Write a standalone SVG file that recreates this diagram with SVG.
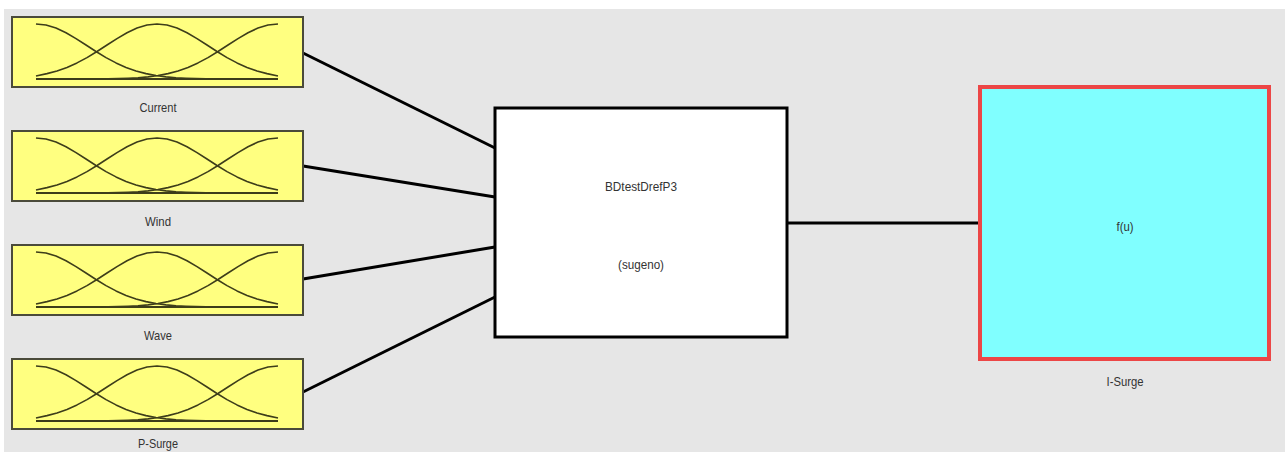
<svg xmlns="http://www.w3.org/2000/svg" width="1285" height="452" viewBox="0 0 1285 452">
<style>
.bg{fill:#e6e6e6}
.inbox{fill:#ffff80;stroke:#4a4a3a;stroke-width:2}
.mf{fill:none;stroke:#3d3d1a;stroke-width:1.6;stroke-linejoin:round}
.base{stroke:#3d3d1a;stroke-width:2}
.lbl{font-family:"Liberation Sans",Arial,sans-serif;font-size:13px;fill:#333;text-anchor:middle}
.conn{stroke:#000;stroke-width:3;fill:none}
.fis{fill:#fff;stroke:#000;stroke-width:3}
.out{fill:#80ffff;stroke:#ec4646;stroke-width:4}
</style>
<defs>
<g id="mfs">
<rect class="inbox" x="0" y="0" width="291" height="70"/>
<line class="base" x1="24" y1="62" x2="266" y2="62"/>
<path class="mf" d="M24,7 L34,8.05 L44,11.07 L54,15.73 L64,21.57 L74,28 L84,34.5 L94,40.6 L104,45.9 L114,50.4 L124,53.95 L134,56.63 L144,58.55 L154,59.86 L164,60.73 L174,61.27 L184,61.6 L194,61.8 L204,62 L266,62"/>
<path class="mf" d="M24,59 L35,56.63 L45,53.95 L55,50.4 L65,45.9 L75,40.6 L85,34.5 L95,28 L105,21.57 L115,15.73 L125,11.07 L135,8.05 L145,7 L155,8.05 L165,11.07 L175,15.73 L185,21.57 L195,28 L205,34.5 L215,40.6 L225,45.9 L235,50.4 L245,53.95 L255,56.63 L266,59"/>
<path class="mf" d="M266,7 L256,8.05 L246,11.07 L236,15.73 L226,21.57 L216,28 L206,34.5 L196,40.6 L186,45.9 L176,50.4 L166,53.95 L156,56.63 L146,58.55 L136,59.86 L126,60.73 L116,61.27 L106,61.6 L96,61.8 L86,62 L24,62"/>
</g>
</defs>
<rect x="0" y="0" width="1285" height="452" fill="#ffffff"/>
<rect class="bg" x="4" y="9" width="1281" height="443"/>
<g id="connectors">
<line class="conn" x1="303" y1="53" x2="495" y2="148"/>
<line class="conn" x1="303" y1="166" x2="495" y2="197"/>
<line class="conn" x1="303" y1="279" x2="495" y2="247"/>
<line class="conn" x1="303" y1="392" x2="495" y2="297"/>
<line class="conn" x1="787" y1="223" x2="978" y2="223"/>
</g>
<g id="current">
<use href="#mfs" x="12" y="17"/>
<text class="lbl" x="158" y="112" textLength="37" lengthAdjust="spacingAndGlyphs">Current</text>
</g>
<g id="wind">
<use href="#mfs" x="12" y="131"/>
<text class="lbl" x="158" y="226" textLength="26" lengthAdjust="spacingAndGlyphs">Wind</text>
</g>
<g id="wave">
<use href="#mfs" x="12" y="245"/>
<text class="lbl" x="158" y="340" textLength="28" lengthAdjust="spacingAndGlyphs">Wave</text>
</g>
<g id="p-surge">
<use href="#mfs" x="12" y="359"/>
<text class="lbl" x="158" y="448" textLength="40" lengthAdjust="spacingAndGlyphs">P-Surge</text>
</g>
<g id="fis">
<rect class="fis" x="495" y="108" width="292" height="229"/>
<text class="lbl" x="641" y="191" textLength="72" lengthAdjust="spacingAndGlyphs">BDtestDrefP3</text>
<text class="lbl" x="641" y="269" textLength="46" lengthAdjust="spacingAndGlyphs">(sugeno)</text>
</g>
<g id="i-surge">
<rect class="out" x="980" y="87" width="289" height="272"/>
<text class="lbl" x="1125" y="231" textLength="17" lengthAdjust="spacingAndGlyphs">f(u)</text>
<text class="lbl" x="1125" y="386" textLength="37" lengthAdjust="spacingAndGlyphs">I-Surge</text>
</g>
</svg>
